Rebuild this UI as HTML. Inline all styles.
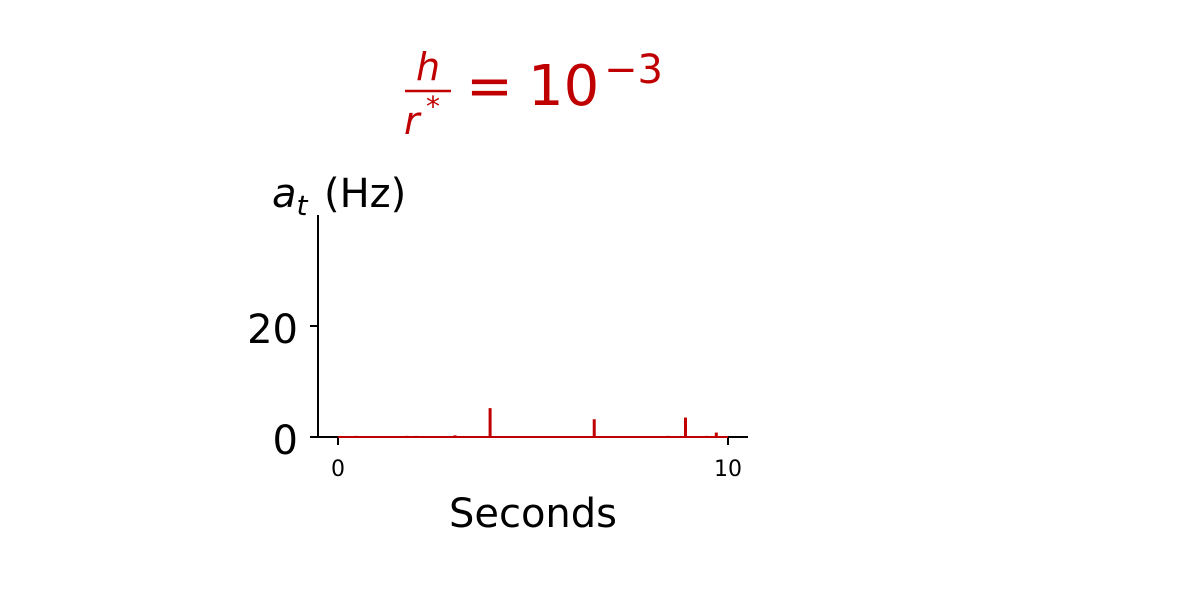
<!DOCTYPE html>
<html><head><meta charset="utf-8"><style>
body{margin:0;background:#fff;width:1200px;height:600px;overflow:hidden}
svg text{font-family:"DejaVu Sans","Liberation Sans",sans-serif}
</style></head><body>
<svg width="1200" height="600">
<g fill="#c00000">
<text x="428" y="80" font-size="38" font-style="italic" text-anchor="middle">h</text>
<line x1="405" y1="91" x2="451" y2="91" stroke="#c00000" stroke-width="2.5"/>
<text x="404" y="134" font-size="38" font-style="italic">r</text>
<text x="426" y="116" font-size="28">*</text>
<text x="466" y="105" font-size="56">=</text>
<text x="528" y="105" font-size="56">10</text>
<text x="604" y="83" font-size="40">−3</text>
</g>
<text x="272" y="207" font-size="40"><tspan font-style="italic">a</tspan><tspan font-style="italic" font-size="28" dy="8">t</tspan><tspan dy="-8" x="324">(Hz)</tspan></text>
<g id="axes"></g>
<text x="533" y="527" font-size="40" text-anchor="middle">Seconds</text>
</svg>
<script>
const times=[0.46,1.76,2.0,3.0,3.9,6.57,8.47,8.91,9.45,9.7];
const values=[0.2,0.2,0.2,0.3,5.2,3.2,0.2,3.5,0.2,0.8];
const xTicks=[0,10];
const yTicks=[0,20];
const X=t=>338+t*39, Y=v=>437-v*5.55;
const ns="http://www.w3.org/2000/svg", g=document.getElementById('axes');
function mk(tag,a,p){const e=document.createElementNS(ns,tag);for(const k in a)e.setAttribute(k,a[k]);(p||g).appendChild(e);return e;}
let sx=mk('line',{x1:318,y1:Y(40),x2:318,y2:437,stroke:'#000','stroke-width':2});


let bx=mk('line',{x1:318,y1:437,x2:748,y2:437,stroke:'#000','stroke-width':2});


yTicks.forEach(v=>{
 const t=mk('line',{x1:310,y1:Y(v),x2:318,y2:Y(v),stroke:'#000','stroke-width':2});
 
 
 const l=mk('text',{x:298,y:Y(v)+17,'font-size':40,'text-anchor':'end'});l.textContent=v;
 
 
});
xTicks.forEach(v=>{
 const t=mk('line',{x1:X(v),y1:437,x2:X(v),y2:445,stroke:'#000','stroke-width':2});
 
 
 const l=mk('text',{x:X(v),y:476,'font-size':22,'text-anchor':'middle'});l.textContent=v;
 
 
});
const base=mk('line',{x1:X(0),y1:Y(0),x2:X(10),y2:Y(0),stroke:'#c00000','stroke-width':2});


times.forEach((t,i)=>{
 const s=mk('line',{x1:X(t),y1:Y(0),x2:X(t),y2:Y(values[i]),stroke:'#c00000','stroke-width':3});
 
 
});
</script>
</body></html>
